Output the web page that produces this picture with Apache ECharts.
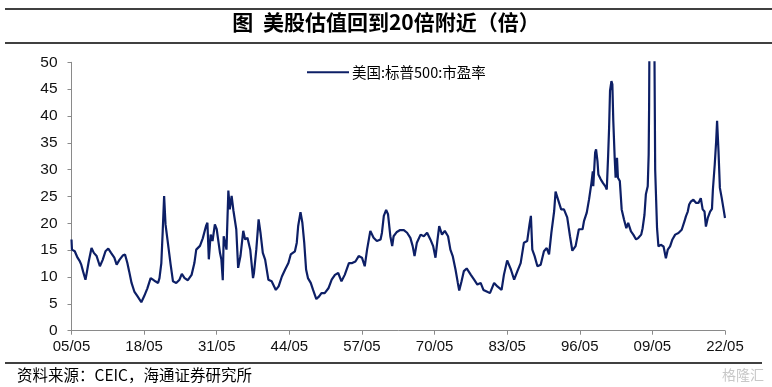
<!DOCTYPE html>
<html>
<head>
<meta charset="utf-8">
<script src="https://cdn.jsdelivr.net/npm/echarts@6/dist/echarts.min.js"></script>
<style>
html,body{margin:0;padding:0;background:#fff;}
#chart{width:772px;height:387px;}
</style>
</head>
<body>
<div id="chart"></div>
<script>
var titleText = '图  美股估值回到20倍附近（倍）';
var sourceText = '资料来源：CEIC，海通证券研究所';
var seriesName = '美国:标普500:市盈率';
var xTickLabels = ['05/05','18/05','31/05','44/05','57/05','70/05','83/05','96/05','09/05','22/05'];
var startYear = 1905, startMonth = 5;

var dates = [
'1905-05','1905-06','1905-12','1906-06','1906-11','1907-02','1907-06','1907-11','1908-01','1908-06','1908-12',
'1909-05','1909-11','1910-06','1910-12','1911-06','1911-12','1912-06','1913-01','1913-06','1913-12',
'1914-07','1914-12','1915-05','1915-09','1916-02','1916-08','1917-03','1917-11','1918-05','1918-12',
'1919-07','1919-12','1920-05','1920-11','1921-02','1921-06','1921-09','1921-12','1922-03','1922-08',
'1923-02','1923-07','1924-02','1924-09','1925-02','1925-08','1926-03','1926-11','1927-05','1927-09',
'1928-05','1928-11','1929-06','1929-09','1929-12','1930-04','1930-08','1931-01','1931-05','1931-08',
'1931-12','1932-03','1932-06','1932-08','1932-11','1933-02','1933-06','1933-09','1934-01','1934-05',
'1934-11','1935-03','1935-08','1936-02','1936-06','1936-11','1937-05','1937-11','1938-01','1938-06',
'1938-11','1939-03','1939-08','1940-01','1940-08','1941-03','1941-12','1942-06','1943-01','1943-08',
'1944-03','1944-08','1945-05','1945-09','1945-12','1946-05','1946-09','1947-01','1947-05','1947-09',
'1948-03','1948-08','1949-03','1949-09','1950-02','1950-09','1951-05','1951-12','1952-07','1953-02',
'1953-09','1954-04','1955-01','1955-08','1956-03','1956-10','1957-05','1957-11','1958-04','1958-11',
'1959-06','1960-01','1960-09','1960-12','1961-04','1961-09','1962-01','1962-06','1962-10','1963-01',
'1963-08','1964-03','1964-11','1965-06','1966-01','1966-06','1966-10','1967-03','1967-11','1968-06',
'1969-01','1969-08','1970-02','1970-07','1970-11','1971-03','1971-09','1972-03','1972-10','1973-03',
'1973-08','1974-02','1974-07','1974-10','1975-03','1975-08','1976-02','1976-11','1977-06','1978-01',
'1978-08','1979-02','1979-09','1980-04','1981-01','1981-08','1982-05','1982-10','1983-05','1984-01',
'1984-08','1985-03','1985-10','1986-05','1986-12','1987-05','1987-08','1987-11','1988-04','1988-10',
'1989-05','1989-12','1990-06','1990-11','1991-04','1991-10','1992-01','1992-06','1993-01','1993-07',
'1994-02','1994-08','1995-01','1995-08','1996-03','1996-11','1997-02','1997-08','1998-01','1998-06',
'1998-09','1998-10','1999-02','1999-04','1999-07','1999-09','2000-02','2000-07','2000-12','2001-03',
'2001-06','2001-08','2001-10','2002-01','2002-03','2002-05','2002-08','2002-10','2003-01','2003-03',
'2003-07','2003-11','2004-04','2004-09','2005-01','2005-07','2005-12','2006-06','2006-11','2007-05',
'2007-08','2007-12','2008-03','2008-07','2008-09','2008-10','2008-11','2009-02','2009-05','2009-08',
'2009-09','2009-11','2010-03','2010-06','2010-11','2011-05','2011-10','2012-02','2012-07','2012-12',
'2013-06','2014-01','2014-08','2015-02','2015-05','2015-09','2015-12','2016-04','2016-09','2017-03',
'2017-08','2018-01','2018-05','2018-09','2018-12','2019-04','2019-09','2020-01','2020-03','2020-05',
'2020-07','2020-10','2020-12','2021-03','2021-06','2021-10','2022-02','2022-05'
];
var pe = [
17,15.1,14.8,13.6,12.9,12.3,11,9.5,10.4,12.9,15.4,
14.5,13.9,12,13.2,14.8,15.3,14.5,13.6,12.3,13.2,
14,14.2,12.6,11,8.9,7.3,6.4,5.3,6.4,7.9,
9.8,9.5,9.2,8.9,9.8,12.6,18.6,25.1,19.8,16.4,
12.3,9.2,8.9,9.5,10.6,9.8,9.4,10.4,12.6,15.1,
15.8,17.2,19.5,20.1,13.3,17.9,16.7,19.8,18.9,17,
14.5,13.25,9.4,17.6,17.3,15.1,26.1,22.6,25.1,22.3,
18.9,11.7,13.9,18.6,17,17.3,15.1,9.8,10.75,15.1,
20.75,18.25,14.5,13.25,9.5,9.2,7.6,8.25,10.1,11.4,
12.6,14.2,14.8,16.4,19.5,22.1,20.1,16.4,11.4,9.8,
8.9,7.6,5.9,6.4,7,7,7.9,9.5,10.4,10.75,
9.2,10.4,12.6,12.6,12.9,13.9,13.6,12,15.1,18.6,
17.3,16.7,17,18.25,21.4,22.5,21.7,17.6,15.75,17.6,
18.4,18.75,18.75,18.25,17.3,15.75,13.9,16.4,17.9,17.6,
18.25,17,15.75,13.6,16.7,19.5,17.9,18.6,17.6,15.1,
13.9,11.4,8.9,7.5,9.2,11.1,11.6,10.4,9.5,8.6,
8.9,7.6,7.3,7,8.9,8.25,7.6,10.4,13.1,11.4,
9.5,11.1,12.6,16.4,16.7,19.8,21.4,15.1,13.9,12,
12.3,14.8,15.4,14.2,18.25,22.3,25.9,24.5,22.6,22.6,
21.1,17.6,14.9,15.75,18.9,18.9,20.4,22,24.5,27.5,
29.7,26.9,33.2,33.8,31.6,29.1,28.2,27.5,26.9,26.3,
32.8,37.8,44.7,46.5,45.9,39.1,32.2,28.5,32.2,28.5,
27.9,22.6,20.7,19.1,20.1,18.5,17.9,17,17.3,17.9,
19.1,21.6,25.4,26.9,32.8,42.2,60,90,123,75,
58,30,19.1,15.7,16,15.7,13.5,15.1,15.7,17,
17.9,18.2,18.8,20.4,21.3,22.2,23.5,24.1,24.4,23.8,
23.8,24.7,22.6,22.2,19.4,21,22.2,22.7,26.3,26.6,
31,35.3,39.1,33.5,26.6,24.7,22.6,21
];

function monthIndex(d) {
  var p = d.split('-');
  return (parseInt(p[0], 10) - startYear) * 12 + (parseInt(p[1], 10) - startMonth);
}
var seriesData = dates.map(function (d, i) { return [monthIndex(d), pe[i]]; });

var chart = echarts.init(document.getElementById('chart'), null, {renderer: 'canvas'});
var axisColor = '#8a8a8a';
var font = '"Liberation Sans", Arial, sans-serif';
var cjk = '"Noto Sans CJK SC", sans-serif';

chart.setOption({
  animation: false,
  backgroundColor: '#ffffff',
  grid: {left: 71.5, right: 47, top: 62.3, bottom: 56.3, containLabel: false},
  legend: {
    show: true,
    left: 302, top: 60,
    itemWidth: 42, itemHeight: 14, itemGap: 6,
    textStyle: {fontFamily: cjk, fontSize: 14.5, color: '#000', padding: [0, 0, 0, -2]},
    data: [{name: seriesName, icon: 'path://M0,6 L40,6 L40,8 L0,8 Z'}]
  },
  xAxis: {
    type: 'value', min: 0, max: 1404, interval: 156,
    axisLine: {show: true, lineStyle: {color: axisColor, width: 1}},
    axisTick: {show: true, inside: false, length: 4, lineStyle: {color: axisColor}},
    splitLine: {show: false},
    axisLabel: {
      margin: 9, color: '#111', fontFamily: font, fontSize: 15,
      formatter: function (v) { return xTickLabels[Math.round(v / 156)] || ''; }
    }
  },
  yAxis: {
    type: 'value', min: 0, max: 50, interval: 5,
    axisLine: {show: true, lineStyle: {color: axisColor, width: 1}},
    axisTick: {show: true, inside: false, length: 4, lineStyle: {color: axisColor}},
    splitLine: {show: false},
    axisLabel: {margin: 14, color: '#111', fontFamily: font, fontSize: 15.5}
  },
  series: [{
    name: seriesName,
    type: 'line',
    data: seriesData,
    symbol: 'none',
    showSymbol: false,
    clip: true,
    lineStyle: {color: '#0d1f66', width: 2.2},
    itemStyle: {color: '#0d1f66'}
  }],
  graphic: [
    {type: 'line', shape: {x1: 5, y1: 9, x2: 772, y2: 9}, style: {stroke: '#000', lineWidth: 1.5}},
    {type: 'line', shape: {x1: 5, y1: 43, x2: 772, y2: 43}, style: {stroke: '#000', lineWidth: 1.5}},
    {type: 'text', left: 'center', top: 12, style: {text: titleText, font: 'bold 21px "Noto Sans CJK SC", sans-serif', fill: '#000'}},
    {type: 'line', shape: {x1: 5, y1: 363, x2: 762, y2: 363}, style: {stroke: '#000', lineWidth: 1.5}},
    {type: 'text', left: 17, top: 367, style: {text: sourceText, font: '15.5px "Noto Sans CJK SC", sans-serif', fill: '#000'}},
    {type: 'text', left: 722, top: 368, style: {text: '格隆汇', font: '14px "Noto Sans CJK SC", sans-serif', fill: '#c8c8c8'}}
  ]
});
</script>
</body>
</html>
